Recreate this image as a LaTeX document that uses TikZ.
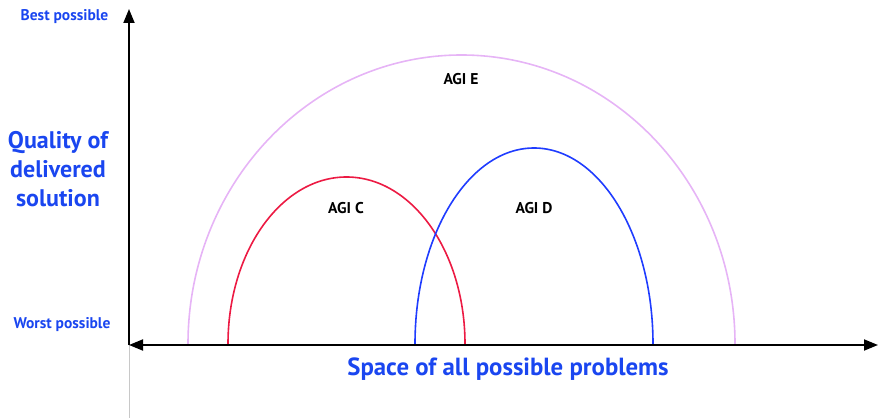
\documentclass[tikz,border=0pt]{standalone}
\usepackage{fontspec}
\setmainfont{PT Sans}
\usetikzlibrary{arrows.meta}
\definecolor{lblblue}{HTML}{1A46F0}
\definecolor{arcblue}{HTML}{1F3CFF}
\definecolor{arcred}{HTML}{EC1A43}
\definecolor{arcviolet}{HTML}{E6B4F6}
\definecolor{guide}{HTML}{C8C8C8}
\tikzset{
  axislabel/.style={text=lblblue, font=\bfseries\fontsize{15.5}{17}\selectfont, inner sep=0pt},
  biglabel/.style={text=lblblue, font=\bfseries\fontsize{24}{29}\selectfont, inner sep=0pt, align=center},
  agilabel/.style={text=black, font=\bfseries\fontsize{15.6}{17}\selectfont, inner sep=0pt},
  axisline/.style={line width=1.8pt, black},
  arcline/.style={line width=1.6pt},
}
\begin{document}
\begin{tikzpicture}[x=1pt,y=1pt]
\useasboundingbox (0,0) rectangle (878,418);
\coordinate (O) at (129,73);
\coordinate (Top) at (129,409);
\coordinate (Right) at (878,73);
\coordinate (Bottom) at (129,0);
% guide line below axis
\draw[guide, line width=0.8pt] (O) -- (Bottom);
% arcs
\draw[arcline, arcviolet] (188,74) arc[start angle=180, end angle=0, x radius=273.5, y radius=289];
\draw[arcline, arcred] (228,74) arc[start angle=180, end angle=0, x radius=118.5, y radius=167];
\draw[arcline, arcblue] (415,74) arc[start angle=180, end angle=0, x radius=119, y radius=196];
% axes
\draw[axisline, -{Triangle[length=14pt,width=11pt]}] (O) -- (Top);
\draw[axisline, {Triangle[length=14pt,width=11pt]}-{Triangle[length=14pt,width=11pt]}] (O) -- (Right);
% labels
\node[axislabel] (best) at (64.5,401) {Best possible};
\node[axislabel] (worst) at (62,93) {Worst possible};
\node[biglabel] (quality) at (58,249) {Quality of\\delivered\\solution};
\node[biglabel, font=\bfseries\fontsize{24.8}{29}\selectfont] (space) at (508,49) {Space of all possible problems};
\node[agilabel] (agie) at (461,339) {AGI E};
\node[agilabel] (agic) at (346,210) {AGI C};
\node[agilabel] (agid) at (534,210) {AGI D};
\end{tikzpicture}
\end{document}
